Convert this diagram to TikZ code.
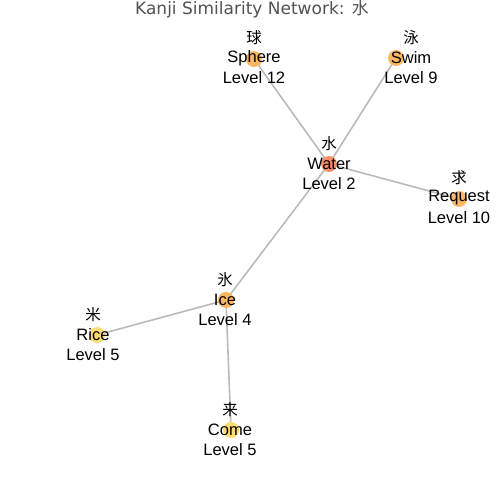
\documentclass[tikz,border=0pt]{standalone}
\usepackage{fontspec}
\setmainfont{Liberation Sans}
\newfontfamily\cjk{Noto Sans CJK SC}
\newfontfamily\titlefont{DejaVu Sans}
\begin{document}
\begin{tikzpicture}[x=1pt,y=-1pt,
  edge/.style={draw=black!27,line width=1.6pt},
  dot/.style={circle,inner sep=0pt,minimum size=16pt,draw=none},
  lbl/.style={inner sep=0pt,font=\fontsize{16.5}{16.5}\selectfont,text=black},
  kj/.style={inner sep=0pt,font=\cjk\fontsize{15.5}{15.5}\selectfont,text=black}]
\useasboundingbox (0,0) rectangle (504,504);
\definecolor{cwater}{HTML}{F7906B}
\definecolor{corange}{HTML}{FBB764}
\definecolor{cyellow}{HTML}{FDDD73}
\node[inner sep=0pt,text=black!68,font=\titlefont\fontsize{17}{17}\selectfont] (title) at (252,9.5) {Kanji Similarity Network: {\cjk 水}};
% node positions
\coordinate (water) at (329,164);
\coordinate (sphere) at (254,59);
\coordinate (swim) at (396,58);
\coordinate (request) at (459,199);
\coordinate (ice) at (226,300);
\coordinate (rice) at (97,335);
\coordinate (come) at (231,430);
% edges
\draw[edge] (water) -- (sphere);
\draw[edge] (water) -- (swim);
\draw[edge] (water) -- (request);
\draw[edge] (water) -- (ice);
\draw[edge] (ice) -- (rice);
\draw[edge] (ice) -- (come);
% dots
\node[dot,fill=cwater] (nwater) at (water) {};
\node[dot,fill=corange] (nsphere) at (sphere) {};
\node[dot,fill=corange] (nswim) at (swim) {};
\node[dot,fill=corange] (nrequest) at (request) {};
\node[dot,fill=corange] (nice) at (ice) {};
\node[dot,fill=cyellow] (nrice) at (rice) {};
\node[dot,fill=cyellow] (ncome) at (come) {};
% labels
\node[kj] (kwater) at (329,144) {水};
\node[lbl] (ewater) at (329,164) {Water};
\node[lbl] (lwater) at (329,184) {Level 2};
\node[kj] (ksphere) at (254,38) {球};
\node[lbl] (esphere) at (254,58) {Sphere};
\node[lbl] (lsphere) at (254,78) {Level 12};
\node[kj] (kswim) at (411,38) {泳};
\node[lbl] (eswim) at (411,58) {Swim};
\node[lbl] (lswim) at (411,78) {Level 9};
\node[kj] (krequest) at (459,178) {求};
\node[lbl] (erequest) at (459,198) {Request};
\node[lbl] (lrequest) at (459,218) {Level 10};
\node[kj] (kice) at (225,280) {氷};
\node[lbl] (eice) at (225,300) {Ice};
\node[lbl] (lice) at (225,320) {Level 4};
\node[kj] (krice) at (93,315) {米};
\node[lbl] (erice) at (93,335) {Rice};
\node[lbl] (lrice) at (93,355) {Level 5};
\node[kj] (kcome) at (230,410) {来};
\node[lbl] (ecome) at (230,430) {Come};
\node[lbl] (lcome) at (230,450) {Level 5};
\end{tikzpicture}
\end{document}
